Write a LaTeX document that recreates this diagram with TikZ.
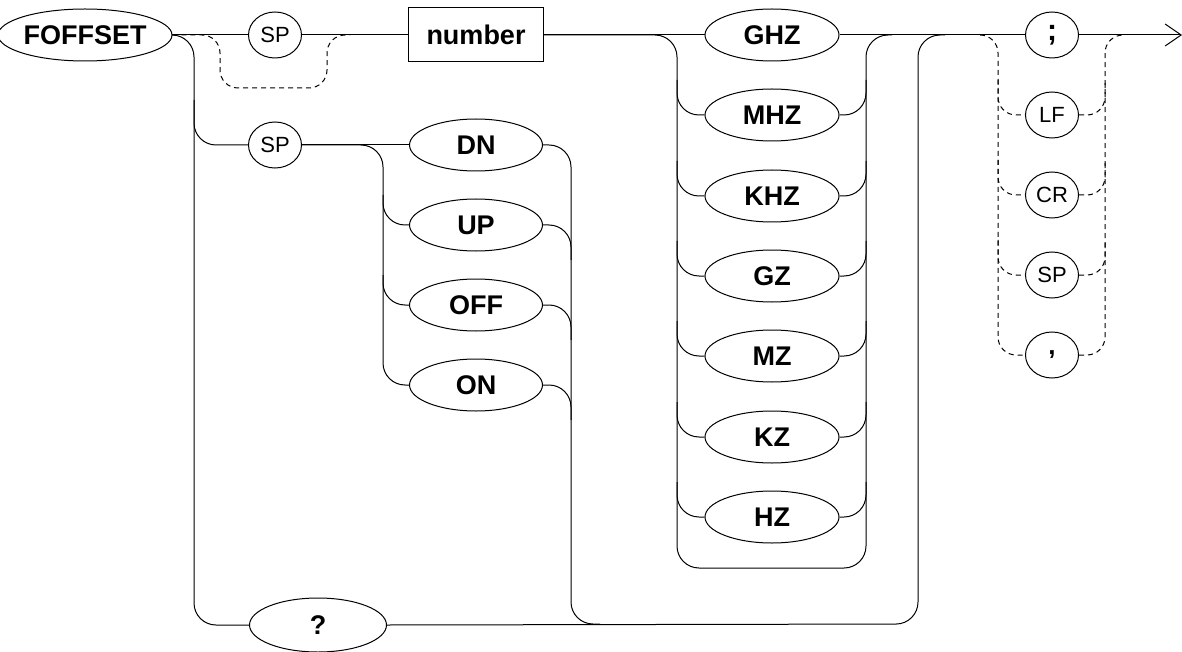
\documentclass[tikz,border=0pt]{standalone}
\usepackage{fontspec}
\setmainfont{Liberation Sans}
\usetikzlibrary{shapes.geometric,arrows.meta}
\begin{document}
\begin{tikzpicture}[x=1pt,y=-1pt,line width=1pt,
  kw/.style={ellipse,draw,inner sep=0pt,minimum width=134pt,minimum height=52pt,font=\bfseries\fontsize{27}{27}\selectfont},
  sm/.style={ellipse,draw,inner sep=0pt,minimum width=53pt,minimum height=46pt,font=\fontsize{22}{22}\selectfont},
  bx/.style={rectangle,draw,inner sep=0pt,minimum width=135pt,minimum height=54pt,font=\bfseries\fontsize{27}{27}\selectfont},
  rc/.style={rounded corners=22pt},
  drc/.style={dashed,dash pattern=on 5pt off 4pt,rounded corners=18pt}]
\useasboundingbox (0,0) rectangle (1182,652);
% nodes
\node[kw,minimum width=164pt] (foff) at (85,35) {FOFFSET};
\node[sm] (sp1) at (275,35) {SP};
\node[bx] (num) at (476,35) {number};
\node[sm] (sp2) at (275,145) {SP};
\node[kw,minimum width=133pt] (dn) at (476,145) {DN};
\node[kw,minimum width=133pt] (up) at (476,225) {UP};
\node[kw,minimum width=133pt] (off) at (476,305) {OFF};
\node[kw,minimum width=133pt] (on) at (476,385) {ON};
\node[kw,minimum width=137pt,minimum height=54pt] (q) at (318,625) {?};
\node[kw] (ghz) at (772,35) {GHZ};
\node[kw] (mhz) at (772,115) {MHZ};
\node[kw] (khz) at (772,196) {KHZ};
\node[kw] (gz) at (772,276) {GZ};
\node[kw] (mz) at (772,356) {MZ};
\node[kw] (kz) at (772,437) {KZ};
\node[kw] (hz) at (772,517) {HZ};
\node[sm,font=\bfseries\fontsize{30}{30}\selectfont] (semi) at (1052,35) {;};
\node[sm,font=\bfseries\fontsize{26}{26}\selectfont] (comma) at (1052,355) {,};
\node[sm] (lf) at (1052,115) {LF};
\node[sm] (cr) at (1052,195) {CR};
\node[sm] (sp3) at (1052,275) {SP};
\coordinate (end) at (1182,35);
% main line
\draw (foff.east) -- (sp1.west);
\draw (sp1.east) -- (num.west);
\draw (num.east) -- (ghz.west);
\draw (ghz.east) -- (semi.west);
\draw[-{Straight Barb[length=16pt,width=22pt]}] (semi.east) -- (end);
% optional SP bypass
\draw[drc] (foff.east) -- (220,35) -- (220,88) -- (327,88) -- (327,35) -- (350,35);
% FOFFSET branches
\draw[rc] (foff.east) -- (194,35) -- (194,625) -- (q.west);
\draw[rc] (194,100) |- (sp2.west);
% SP2 to DN column
\draw (sp2.east) -- (dn.west);
\draw[rc] (sp2.east) -- (383,145) -- (383,385) -- (on.west);
\draw[rc] (383,195) |- (up.west);
\draw[rc] (383,275) |- (off.west);
\draw[rc] (dn.east) -- (571,145) -- (571,624) -- (600,624);
\draw[rc] (up.east) -| (571,260);
\draw[rc] (off.east) -| (571,340);
\draw[rc] (on.east) -| (571,420);
% big return loop
\draw[rc] (q.east) -- (918,624) -- (918,35) -- (945,35);
% unit column
\draw[rc] (num.east) -- (677,35) -- (677,568) -- (866,568) -- (866,35) -- (892,35);
\foreach \n/\y in {mhz/115,khz/196,gz/276,mz/356,kz/437,hz/517}{
  \draw[rc] (677,\y-35) |- (\n.west);
  \draw[rc] (\n.east) -| (866,\y-35);
}
% terminator column
\draw[drc] (980,35) -- (998,35) -- (998,355) -- (comma.west);
\draw[drc] (comma.east) -- (1105,355) -- (1105,35) -- (1125,35);
\foreach \n/\y in {lf/115,cr/195,sp3/275}{
  \draw[drc] (998,\y-35) |- (\n.west);
  \draw[drc] (\n.east) -| (1105,\y-35);
}
\end{tikzpicture}
\end{document}
